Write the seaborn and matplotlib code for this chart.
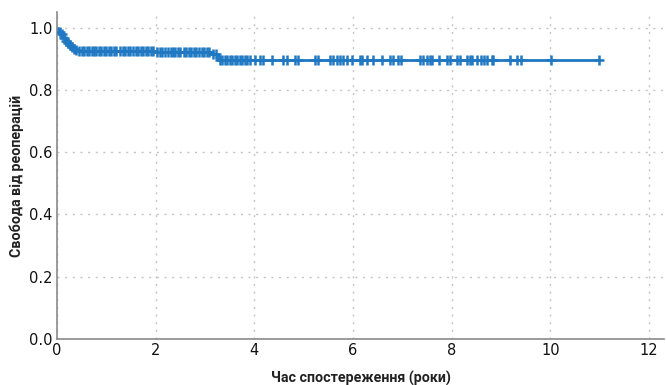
import numpy as np
import pandas as pd
import seaborn as sns
import matplotlib
matplotlib.use('Agg')
import matplotlib.pyplot as plt

# Kaplan-Meier step values
event_times = [0.0, 0.02, 0.05, 0.08, 0.11, 0.14, 0.17, 0.20, 0.24, 0.28, 0.32, 0.36, 0.42,
               1.98, 3.12, 3.27, 11.0]
surv = [1.0, 0.993, 0.987, 0.980, 0.973, 0.966, 0.958, 0.951, 0.944, 0.938, 0.932, 0.927, 0.923,
        0.921, 0.914, 0.897, 0.897]

# censored observations (time in years)
censor_times = [0.06, 0.10, 0.15, 0.19, 0.23, 0.27, 0.31, 0.35, 0.39,
                0.45, 0.50, 0.55, 0.60, 0.65, 0.70, 0.75, 0.80, 0.85, 0.90, 0.95,
                1.00, 1.05, 1.10, 1.15, 1.20, 1.28, 1.33, 1.38, 1.43, 1.48, 1.53,
                1.60, 1.65, 1.70, 1.75, 1.80, 1.85, 1.90, 1.95,
                2.03, 2.08, 2.13, 2.18, 2.24, 2.30, 2.35, 2.40, 2.45, 2.50,
                2.57, 2.62, 2.67, 2.72, 2.77, 2.82, 2.88, 2.93, 2.98, 3.03, 3.08,
                3.17, 3.22,
                3.30, 3.35, 3.40, 3.45, 3.50, 3.55, 3.60, 3.65, 3.70, 3.75, 3.80, 3.85,
                3.91, 4.01, 4.11, 4.17, 4.35, 4.57, 4.66, 4.82, 4.88, 5.22, 5.28,
                5.53, 5.59, 5.67, 5.73, 5.79, 5.87, 5.97, 6.13, 6.19, 6.28, 6.40,
                6.58, 6.74, 6.80, 6.90, 6.98, 7.35, 7.41, 7.49, 7.55, 7.59, 7.75,
                7.91, 7.96, 8.10, 8.16, 8.30, 8.36, 8.40, 8.52, 8.60, 8.66, 8.72,
                8.81, 8.83, 9.17, 9.33, 9.41, 10.02, 10.99]


def surv_at(t):
    idx = np.searchsorted(event_times, t, side='right') - 1
    return surv[idx]


curve = pd.DataFrame({'time': event_times, 'surv': surv})
cens = pd.DataFrame({'time': censor_times, 'surv': [surv_at(t) for t in censor_times]})

sns.set_style('white')
plt.rcParams['font.family'] = ['DejaVu Sans']

color = '#1f78c1'
fig = plt.figure(figsize=(6.66, 3.85), dpi=100)
ax = fig.add_axes([0.0856, 0.1195, 0.9114, 0.8495])

sns.lineplot(data=curve, x='time', y='surv', drawstyle='steps-post', color=color,
             linewidth=2, ax=ax, estimator=None)
sns.scatterplot(data=cens, x='time', y='surv', marker='+', s=50, color=color,
                linewidth=1.8, ax=ax, zorder=3)

ax.set_xlim(0, 12.3)
ax.set_ylim(0, 1.05)
ax.set_xticks([0, 2, 4, 6, 8, 10, 12])
ax.set_yticks([0.0, 0.2, 0.4, 0.6, 0.8, 1.0])
ax.set_yticklabels(['0.0', '0.2', '0.4', '0.6', '0.8', '1.0'])
ax.grid(True, linestyle=(0, (1.5, 4)), color='#c4c4c4', linewidth=1)
ax.tick_params(length=0, labelsize=10.5, colors='#111111', pad=3)
for s in ['top', 'right']:
    ax.spines[s].set_visible(False)
for s in ['left', 'bottom']:
    ax.spines[s].set_color('#8a8a8a')
    ax.spines[s].set_linewidth(1.2)

lab_font = ['Roboto', 'DejaVu Sans']
ax.set_xlabel('Час спостереження (роки)', fontsize=10.3, fontweight='bold', labelpad=9,
              color='#222222', family=lab_font)
ax.set_ylabel('Свобода від реоперацій', fontsize=10.3, fontweight='bold', labelpad=4,
              color='#222222', family=lab_font)

fig.savefig('out.png', dpi=100)
